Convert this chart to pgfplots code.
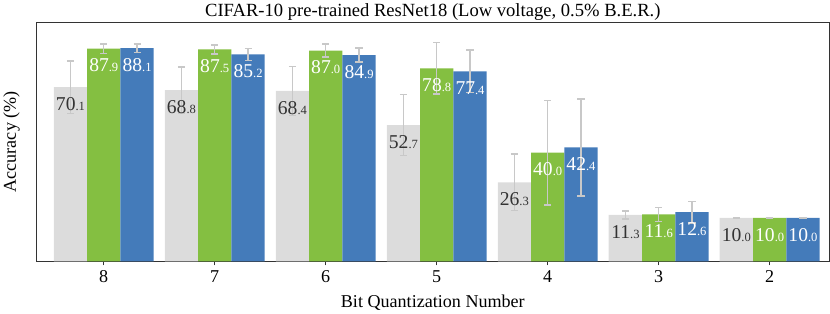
\documentclass[border=0pt]{standalone}
\usepackage{pgfplots}
\pgfplotsset{compat=1.18}
\usepackage{pgfplotstable}
\usepackage{fontspec}
\setmainfont{Liberation Serif}
\definecolor{cgray}{HTML}{DCDCDC}
\definecolor{cgreen}{HTML}{84BF41}
\definecolor{cblue}{HTML}{447BBA}
\definecolor{cerr}{HTML}{C8C8C8}
\definecolor{cdark}{HTML}{333333}
\def\splitlblx#1.#2\relax{#1{\fontsize{12.5}{12.5}\selectfont.#2}}
\newcommand\splitlbl[1]{\edef\tmplbl{#1}\expandafter\splitlblx\tmplbl\relax}

\pgfplotstableread{
x acc err lbl
0 70.1 12.0 70.1
1 68.8 10.7 68.8
2 68.4 11.3 68.4
3 52.7 14.0 52.7
4 26.3 13.0 26.3
5 11.3 1.8 11.3
6 10.0 0.1 10.0
}\grayT
\pgfplotstableread{
x acc err lbl
0 87.9 2.2 87.9
1 87.5 2.0 87.5
2 87.0 2.9 87.0
3 78.8 11.8 78.8
4 40.0 24.0 40.0
5 11.6 3.2 11.6
6 10.0 0.1 10.0
}\greenT
\pgfplotstableread{
x acc err lbl
0 88.1 2.0 88.1
1 85.2 2.8 85.2
2 84.9 3.2 84.9
3 77.4 9.8 77.4
4 42.4 22.3 42.4
5 12.6 5.0 12.6
6 10.0 0.1 10.0
}\blueT

\pgfplotsset{myerr/.style={
  error bars/y dir=both, error bars/y explicit,
  error bars/error bar style={line width=1.3bp, draw=cerr},
  error bars/error mark options={line width=1.5bp, draw=cerr, mark size=3.5bp, rotate=90},
}}

\begin{document}
\begin{tikzpicture}
\begin{axis}[
  scale only axis, width=787bp, height=237bp,
  xmin=-0.61, xmax=6.54, ymin=0, ymax=110,
  ybar, bar width=0.3,
  xtick={0,...,6}, xticklabels={8,7,6,5,4,3,2},
  ytick=\empty,
  tick align=outside, xtick pos=bottom, major tick length=4bp,
  xtick style={draw=cdark, line width=0.8bp},
  axis line style={draw=cdark, line width=0.8bp},
  ticklabel style={font=\fontsize{18}{18}\selectfont},
  xticklabel style={anchor=base, yshift=-17bp},
  title={CIFAR-10 pre-trained ResNet18 (Low voltage, 0.5\% B.E.R.)},
  every axis title/.style={at={(axis description cs:0.5,1)}, anchor=base, yshift=6bp, font=\fontsize{18.5}{18.5}\selectfont},
  xlabel={Bit Quantization Number},
  every axis x label/.style={at={(axis description cs:0.5,0)}, anchor=base, yshift=-46bp, font=\fontsize{18}{18}\selectfont},
  ylabel={Accuracy (\%)},
  every axis y label/.style={at={(axis description cs:0,0.5)}, xshift=-20bp, rotate=90, anchor=base, font=\fontsize{18}{18}\selectfont},
  point meta=explicit symbolic,
  nodes near coords={\splitlbl{\pgfplotspointmeta}},
  nodes near coords style={anchor=north, inner sep=0pt, yshift=-10bp, font=\fontsize{19.5}{19.5}\selectfont},
]
\addplot[fill=cgray, draw=none, bar shift=-0.3, myerr, nodes near coords style={text=cdark}]
  table[x=x, y expr=\thisrow{acc}+10, y error=err, meta=lbl] {\grayT};
\addplot[fill=cgreen, draw=none, bar shift=0, myerr, nodes near coords style={text=white}]
  table[x=x, y expr=\thisrow{acc}+10, y error=err, meta=lbl] {\greenT};
\addplot[fill=cblue, draw=none, bar shift=0.3, myerr, nodes near coords style={text=white}]
  table[x=x, y expr=\thisrow{acc}+10, y error=err, meta=lbl] {\blueT};
\end{axis}
\end{tikzpicture}
\end{document}
